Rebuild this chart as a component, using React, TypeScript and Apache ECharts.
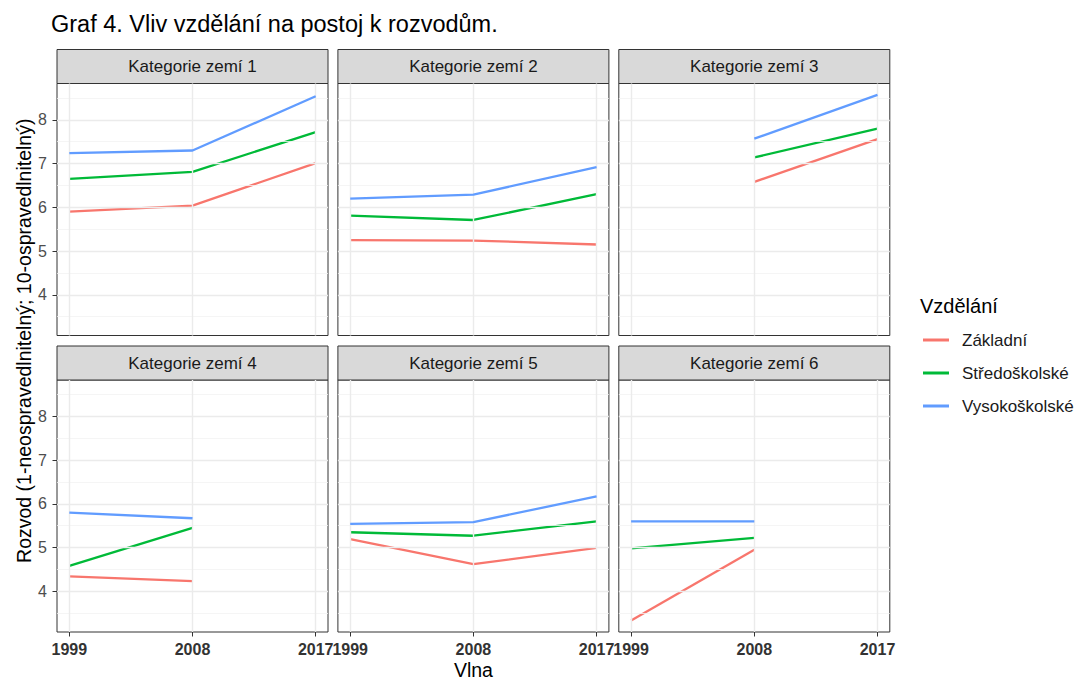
import { useEffect, useRef } from "react";
import * as echarts from "echarts";

const TITLE = "Graf 4. Vliv vzdělání na postoj k rozvodům.";
const Y_TITLE = "Rozvod (1-neospravedlnitelný; 10-ospravedlnitelný)";
const X_TITLE = "Vlna";
const LEGEND_TITLE = "Vzdělání";

const CATEGORIES = [
  "Kategorie zemí 1",
  "Kategorie zemí 2",
  "Kategorie zemí 3",
  "Kategorie zemí 4",
  "Kategorie zemí 5",
  "Kategorie zemí 6",
];
const WAVES = [1999, 2008, 2017];
const EDUCATION = ["Základní", "Středoškolské", "Vysokoškolské"];
const COLORS = ["#F8766D", "#00BA38", "#619CFF"];

// values per panel: [1999, 2008, 2017]
const ZAKLADNI = [
  [5.9, 6.04, 7.01],
  [5.25, 5.24, 5.15],
  [null, 6.58, 7.56],
  [4.34, 4.23, null],
  [5.19, 4.62, 4.99],
  [3.33, 4.95, null],
];
const STREDOSKOLSKE = [
  [6.65, 6.81, 7.72],
  [5.81, 5.71, 6.3],
  [null, 7.14, 7.8],
  [4.58, 5.45, null],
  [5.35, 5.27, 5.6],
  [4.98, 5.22, null],
];
const VYSOKOSKOLSKE = [
  [7.24, 7.3, 8.54],
  [6.2, 6.29, 6.92],
  [null, 7.57, 8.57],
  [5.8, 5.67, null],
  [5.54, 5.58, 6.17],
  [5.6, 5.6, null],
];
const Y_BREAKS = [4, 5, 6, 7, 8];
const Y_MINOR = [3.5, 4.5, 5.5, 6.5, 7.5, 8.5];

const FONT = "'Liberation Sans', Arial, sans-serif";

export default function App() {
  const ref = useRef<HTMLDivElement>(null);

  useEffect(() => {
    if (!ref.current) return;
    const chart = echarts.init(ref.current, null, { renderer: "svg" });

    const SERIES_VALUES = [ZAKLADNI, STREDOSKOLSKE, VYSOKOSKOLSKE];
    const all: number[] = [];
    SERIES_VALUES.forEach((s) => s.forEach((r) => r.forEach((v) => v != null && all.push(v as number))));
    const yLo = Math.min(...all);
    const yHi = Math.max(...all);
    const yPad = (yHi - yLo) * 0.05;
    const Y_MIN = yLo - yPad;
    const Y_MAX = yHi + yPad;
    const xPad = (WAVES[WAVES.length - 1] - WAVES[0]) * 0.05;
    const X_MIN = WAVES[0] - xPad;
    const X_MAX = WAVES[WAVES.length - 1] + xPad;

    // layout
    const LEFT0 = 57;
    const PW = 271;
    const GAP = 9.9;
    const STRIP_TOP = [49.5, 346];
    const STRIP_H = 34;
    const PH = 252;

    const grids: any[] = [];
    const xAxes: any[] = [];
    const yAxes: any[] = [];
    const series: any[] = [];
    const graphics: any[] = [];

    const major = { color: "#ebebeb", width: 1.4, type: "solid" };
    const minor = { color: "#f3f3f3", width: 0.8, type: "solid" };

    CATEGORIES.forEach((cat, p) => {
      const row = Math.floor(p / 3);
      const col = p % 3;
      const left = LEFT0 + col * (PW + GAP);
      const stripTop = STRIP_TOP[row];
      const top = stripTop + STRIP_H;
      grids.push({
        left,
        top,
        width: PW,
        height: PH,
        show: true,
        borderColor: "#333333",
        borderWidth: 1,
        backgroundColor: "transparent",
        containLabel: false,
      });
      xAxes.push({
        gridIndex: p,
        type: "value",
        min: X_MIN,
        max: X_MAX,
        splitLine: { show: false },
        axisLine: { show: false },
        axisTick: {
          show: row === 1,
          length: 4.5,
          customValues: WAVES,
          lineStyle: { color: "#333333", width: 1 },
        },
        axisLabel: {
          show: row === 1,
          customValues: WAVES,
          formatter: (v: number) => String(Math.round(v)),
          margin: 9,
          fontSize: 16,
          fontWeight: "bold",
          color: "#333333",
          fontFamily: FONT,
        },
      });
      yAxes.push({
        gridIndex: p,
        type: "value",
        min: Y_MIN,
        max: Y_MAX,
        splitLine: { show: false },
        axisLine: { show: false },
        axisTick: {
          show: col === 0,
          length: 4.5,
          customValues: Y_BREAKS,
          lineStyle: { color: "#333333", width: 1 },
        },
        axisLabel: {
          show: col === 0,
          customValues: Y_BREAKS,
          formatter: (v: number) => String(Math.round(v)),
          margin: 10,
          fontSize: 16,
          color: "#4d4d4d",
          fontFamily: FONT,
        },
      });
      // grid lines
      series.push({
        type: "line",
        name: "grid" + p,
        xAxisIndex: p,
        yAxisIndex: p,
        data: [],
        z: 1,
        silent: true,
        markLine: {
          silent: true,
          symbol: ["none", "none"],
          label: { show: false },
          emphasis: { disabled: true },
          data: [
            ...Y_MINOR.map((v) => ({ yAxis: v, lineStyle: minor })),
            ...Y_BREAKS.map((v) => ({ yAxis: v, lineStyle: major })),
            ...WAVES.map((v) => ({ xAxis: v, lineStyle: major })),
          ],
        },
      });
      SERIES_VALUES.forEach((vals, e) => {
        const data = WAVES.map((w, i) => (vals[p][i] == null ? null : [w, vals[p][i]])).filter(
          (d) => d != null
        );
        series.push({
          type: "line",
          name: EDUCATION[e],
          xAxisIndex: p,
          yAxisIndex: p,
          data,
          color: COLORS[e],
          showSymbol: false,
          symbol: "none",
          z: 3 + e,
          lineStyle: { width: 2.3, color: COLORS[e] },
          emphasis: { disabled: true },
        });
      });
      // strip
      graphics.push({
        type: "rect",
        shape: { x: left, y: stripTop, width: PW, height: STRIP_H },
        style: { fill: "#d9d9d9", stroke: "#333333", lineWidth: 1 },
        silent: true,
      });
      graphics.push({
        type: "text",
        x: left + PW / 2,
        y: stripTop + STRIP_H / 2,
        style: {
          text: cat,
          align: "center",
          verticalAlign: "middle",
          fontSize: 17,
          fontFamily: FONT,
          fill: "#1a1a1a",
        },
        silent: true,
      });
    });

    const plotLeft = LEFT0;
    const plotRight = LEFT0 + 3 * PW + 2 * GAP;
    graphics.push({
      type: "text",
      x: 24,
      y: (STRIP_TOP[0] + STRIP_TOP[1] + STRIP_H + PH) / 2,
      rotation: Math.PI / 2,
      style: {
        text: Y_TITLE,
        align: "center",
        verticalAlign: "middle",
        fontSize: 19.5,
        fontFamily: FONT,
        fill: "#000000",
      },
      silent: true,
    });
    graphics.push({
      type: "text",
      x: (plotLeft + plotRight) / 2,
      y: 669.5,
      style: {
        text: X_TITLE,
        align: "center",
        verticalAlign: "middle",
        fontSize: 19.5,
        fontFamily: FONT,
        fill: "#000000",
      },
      silent: true,
    });
    graphics.push({
      type: "text",
      x: 920,
      y: 306,
      style: {
        text: LEGEND_TITLE,
        align: "left",
        verticalAlign: "middle",
        fontSize: 20,
        fontFamily: FONT,
        fill: "#000000",
      },
      silent: true,
    });

    chart.setOption({
      animation: false,
      backgroundColor: "#ffffff",
      title: {
        text: TITLE,
        left: 51,
        top: 12,
        padding: 0,
        textStyle: { fontSize: 23.5, fontWeight: "normal", color: "#000000", fontFamily: FONT },
      },
      legend: {
        data: EDUCATION,
        orient: "vertical",
        left: 923,
        top: 330,
        padding: 0,
        itemWidth: 26,
        itemHeight: 3,
        itemGap: 13,
        icon: "rect",
        selectedMode: false,
        textStyle: {
          fontSize: 17,
          lineHeight: 20,
          color: "#1a1a1a",
          fontFamily: FONT,
          padding: [0, 0, 0, 8],
        },
      },
      grid: grids,
      xAxis: xAxes,
      yAxis: yAxes,
      series,
      graphic: graphics,
    });

    return () => {
      chart.dispose();
    };
  }, []);

  return (
    <div
      ref={ref}
      style={{ position: "fixed", left: 0, top: 0, width: 1080, height: 680, background: "#fff" }}
    />
  );
}
